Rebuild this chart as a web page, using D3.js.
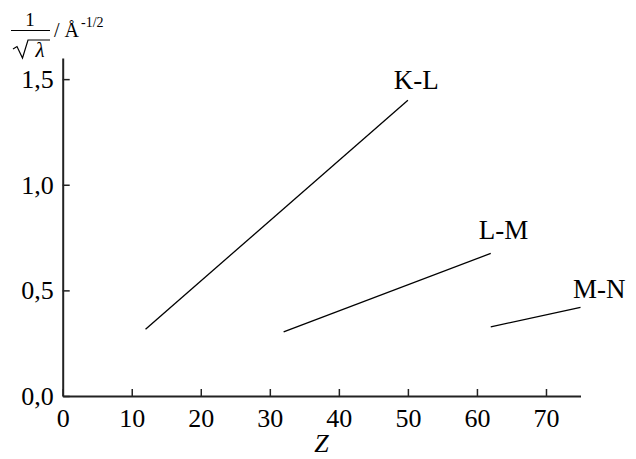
<!DOCTYPE html>
<html>
<head>
<meta charset="utf-8">
<script src="https://d3js.org/d3.v7.min.js"></script>
<style>
  body { margin: 0; background: #fff; }
  text { font-family: "Liberation Serif", "Times New Roman", serif; fill: #000; }
</style>
</head>
<body>
<script>
// Moseley lines: 1/sqrt(lambda) vs Z
var series = ["K-L", "L-M", "M-N"];
var zStart = [12, 32, 62];
var zEnd   = [50, 62, 75];
var yStart = [0.316, 0.304, 0.327];
var yEnd   = [1.40, 0.675, 0.42];
// label anchors (data coords)
var labelZ = [51.2, 63.85, 77.7];
var labelY = [1.453, 0.743, 0.464];

var xTicks = [0, 10, 20, 30, 40, 50, 60, 70];
var yTicks = [0, 0.5, 1.0, 1.5];
var yTickLabels = ["0,0", "0,5", "1,0", "1,5"];

var margin = {top: 58, right: 55.5, bottom: 63, left: 62.7},
    W = 636, H = 459,
    width = W - margin.left - margin.right,
    height = H - margin.top - margin.bottom;

var svg = d3.select("body").append("svg")
    .attr("width", W)
    .attr("height", H);

var x = d3.scaleLinear().domain([0, 75]).range([0, width]);
var y = d3.scaleLinear().domain([0, 1.6]).range([height, 0]);

var g = svg.append("g")
    .attr("transform", "translate(" + margin.left + "," + margin.top + ")");

// x axis
var xAxis = g.append("g")
    .attr("transform", "translate(0," + height + ")")
    .call(d3.axisBottom(x).tickValues(xTicks).tickSizeInner(-7).tickSizeOuter(0).tickPadding(12));
xAxis.select(".domain").attr("stroke", "#222").attr("stroke-width", 2);
xAxis.selectAll(".tick line").attr("stroke", "#222").attr("stroke-width", 1.5);
xAxis.selectAll(".tick text")
    .attr("font-size", 26)
    .attr("font-family", "Liberation Serif")
    .attr("dy", "0.78em")
    .attr("y", 11);

// y axis
var yAxis = g.append("g")
    .call(d3.axisLeft(y).tickValues(yTicks)
      .tickFormat(function(d, i) { return yTickLabels[i]; })
      .tickSizeInner(-7).tickSizeOuter(0).tickPadding(9));
yAxis.select(".domain").attr("stroke", "#222").attr("stroke-width", 2);
yAxis.selectAll(".tick line").attr("stroke", "#222").attr("stroke-width", 1.5);
yAxis.selectAll(".tick text")
    .attr("font-size", 26)
    .attr("font-family", "Liberation Serif")
    .attr("x", -9)
    .attr("dy", "0.33em");

// lines
var segs = series.map(function(s, i) {
  return {name: s, pts: [[zStart[i], yStart[i]], [zEnd[i], yEnd[i]]], lz: labelZ[i], ly: labelY[i]};
});
var line = d3.line()
    .x(function(d) { return x(d[0]); })
    .y(function(d) { return y(d[1]); });

g.selectAll(".seg")
    .data(segs)
  .enter().append("path")
    .attr("class", "seg")
    .attr("d", function(d) { return line(d.pts); })
    .attr("fill", "none")
    .attr("stroke", "#000")
    .attr("stroke-width", 1.3);

g.selectAll(".lbl")
    .data(segs)
  .enter().append("text")
    .attr("class", "lbl")
    .attr("x", function(d) { return x(d.lz); })
    .attr("y", function(d) { return y(d.ly); })
    .attr("text-anchor", "middle")
    .attr("font-size", 27)
    .text(function(d) { return d.name; });

// x axis title
svg.append("text")
    .attr("x", margin.left + width / 2)
    .attr("y", 452)
    .attr("text-anchor", "middle")
    .attr("font-size", 26)
    .attr("font-style", "italic")
    .text("Z");

// y axis title: 1/sqrt(lambda) / Å^-1/2
var yt = svg.append("g");
yt.append("text")
    .attr("x", 30).attr("y", 25.5)
    .attr("text-anchor", "middle")
    .attr("font-size", 19)
    .text("1");
yt.append("line")
    .attr("x1", 11).attr("x2", 50).attr("y1", 30.5).attr("y2", 30.5)
    .attr("stroke", "#000").attr("stroke-width", 1.2);
yt.append("path")
    .attr("d", "M13,49 L17,46.5 L22.5,58 L28,40 L50,40")
    .attr("fill", "none").attr("stroke", "#000").attr("stroke-width", 1.2);
yt.append("text")
    .attr("x", 40).attr("y", 57)
    .attr("text-anchor", "middle")
    .attr("font-size", 21)
    .attr("font-style", "italic")
    .text("λ");
var unit = yt.append("text")
    .attr("x", 54).attr("y", 37)
    .attr("font-size", 20);
unit.append("tspan").text("/ Å");
unit.append("tspan")
    .attr("font-size", 14)
    .attr("dy", -10)
    .attr("dx", 2)
    .text("-1/2");
</script>
</body>
</html>
